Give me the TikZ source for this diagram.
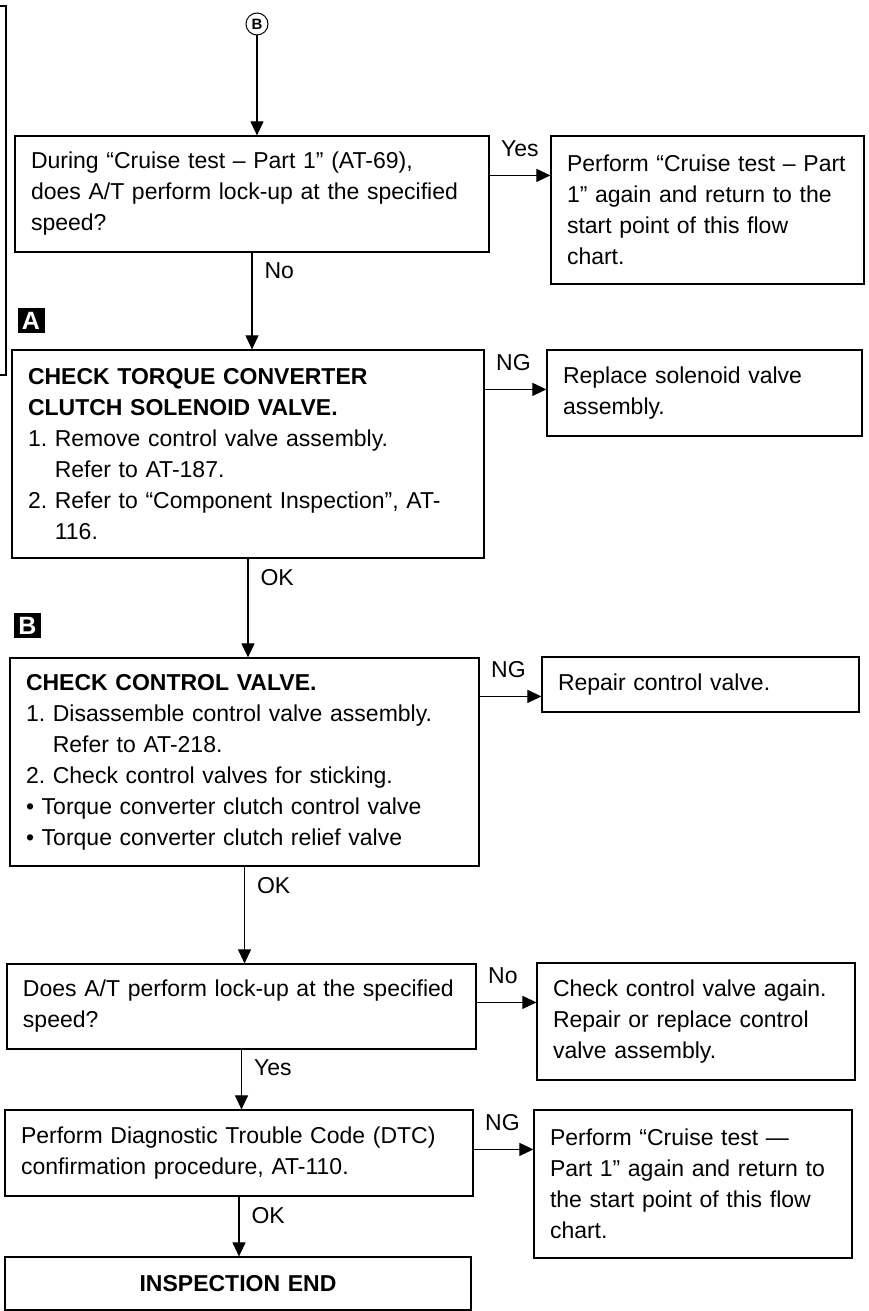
\documentclass[tikz,border=0pt]{standalone}
\usepackage{fontspec}
\setmainfont{Liberation Sans}
\usetikzlibrary{arrows.meta,positioning}
\frenchspacing

\begin{document}
\begin{tikzpicture}[
  x=1pt,
  y=-1pt,
  every node/.style={
    font=\fontsize{23}{31}\selectfont
  },
  flowbox/.style={
    rectangle,
    draw=black,
    line width=1.2pt,
    align=left,
    inner xsep=16pt,
    inner ysep=4pt
  },
  endbox/.style={
    flowbox,
    align=center,
    font=\bfseries\fontsize{23}{31}\selectfont
  },
  marker/.style={
    rectangle,
    fill=black,
    text=white,
    minimum width=27pt,
    minimum height=25pt,
    inner sep=0pt,
    font=\bfseries\fontsize{25}{25}\selectfont
  },
  connector/.style={
    circle,
    draw=black,
    line width=1pt,
    minimum size=22pt,
    inner sep=0pt,
    font=\bfseries\fontsize{15}{15}\selectfont
  },
  flow/.style={
    -{Triangle[length=14pt,width=13pt]},
    draw=black,
    line width=1.1pt
  },
  vlbl/.style={anchor=north west, pos=0, inner sep=0pt, xshift=12pt, yshift=-10pt},
  hlbl/.style={anchor=base west, pos=0, inner sep=0pt, xshift=11pt, yshift=19pt}
]
\useasboundingbox (0,0) rectangle (868,1311);

% Page edge at left
\draw[line width=1.2pt] (0,6) -- (6,6) -- (6,375) -- (0,375);

\node[connector] (entry) at (257,24) {B};

% Main column, top to bottom
\node[flowbox, text width=442pt, minimum height=116pt] (cruise) at (252,194)
  {During “Cruise test – Part 1” (AT-69),\\does A/T perform lock-up at the specified\\speed?};
\node[marker] (markA) at (31,320.5) {A};
\node[flowbox, text width=440pt, minimum height=208pt] (solenoid) at (248,454)
  {\textbf{CHECK TORQUE CONVERTER}\\\textbf{CLUTCH SOLENOID VALVE.}\\1. Remove control valve assembly.\\\hphantom{1.} Refer to AT-187.\\2. Refer to “Component Inspection”, AT-\\\hphantom{2.} 116.};
\node[marker] (markB) at (27.5,625.5) {B};
\node[flowbox, text width=437pt, minimum height=208pt] (valve) at (244.5,762)
  {\textbf{CHECK CONTROL VALVE.}\\1. Disassemble control valve assembly.\\\hphantom{1.} Refer to AT-218.\\2. Check control valves for sticking.\\• Torque converter clutch control valve\\• Torque converter clutch relief valve};
\node[flowbox, text width=437pt, minimum height=85pt] (lockup) at (241.5,1006.5)
  {Does A/T perform lock-up at the specified\\speed?};
\node[flowbox, text width=436pt, minimum height=86pt] (dtc) at (239,1153)
  {Perform Diagnostic Trouble Code (DTC)\\confirmation procedure, AT-110.};
\node[endbox, text width=434pt, minimum height=53pt] (done) at (238,1283.5) {INSPECTION END};

% Side actions
\node[flowbox, text width=281pt, minimum height=148pt] (retry) at (707.5,210)
  {Perform “Cruise test – Part\\1” again and return to the\\start point of this flow\\chart.};
\node[flowbox, text width=283pt, minimum height=86pt] (replace) at (704.5,393)
  {Replace solenoid valve\\assembly.};
\node[flowbox, text width=285pt, minimum height=55pt] (repair) at (700.5,684.5)
  {Repair control valve.};
\node[flowbox, text width=286pt, minimum height=117pt] (recheck) at (696,1021.5)
  {Check control valve again.\\Repair or replace control\\valve assembly.};
\node[flowbox, text width=286pt, minimum height=148pt] (rerun) at (693,1184)
  {Perform “Cruise test —\\Part 1” again and return to\\the start point of this flow\\chart.};

% Main flow
\draw[flow] (entry) -- (entry |- cruise.north);
\draw[flow] (cruise.south) -- node[vlbl] {No} (cruise.south |- solenoid.north);
\draw[flow] (solenoid.south) -- node[vlbl] {OK} (solenoid.south |- valve.north);
\draw[flow] (valve.south) -- node[vlbl] {OK} (valve.south |- lockup.north);
\draw[flow] (lockup.south) -- node[vlbl] {Yes} (lockup.south |- dtc.north);
\draw[flow] (dtc.south) -- node[vlbl] {OK} (dtc.south |- done.north);

% Branches
\draw[flow] ([yshift=-40pt]cruise.north east) -- node[hlbl] {Yes} ([yshift=-40pt]cruise.north east -| retry.west);
\draw[flow] ([yshift=-40pt]solenoid.north east) -- node[hlbl] {NG} ([yshift=-40pt]solenoid.north east -| replace.west);
\draw[flow] ([yshift=-39pt]valve.north east) -- node[hlbl] {NG} ([yshift=-39pt]valve.north east -| repair.west);
\draw[flow] ([yshift=-39pt]lockup.north east) -- node[hlbl] {No} ([yshift=-39pt]lockup.north east -| recheck.west);
\draw[flow] ([yshift=-40pt]dtc.north east) -- node[hlbl] {NG} ([yshift=-40pt]dtc.north east -| rerun.west);

\end{tikzpicture}
\end{document}
